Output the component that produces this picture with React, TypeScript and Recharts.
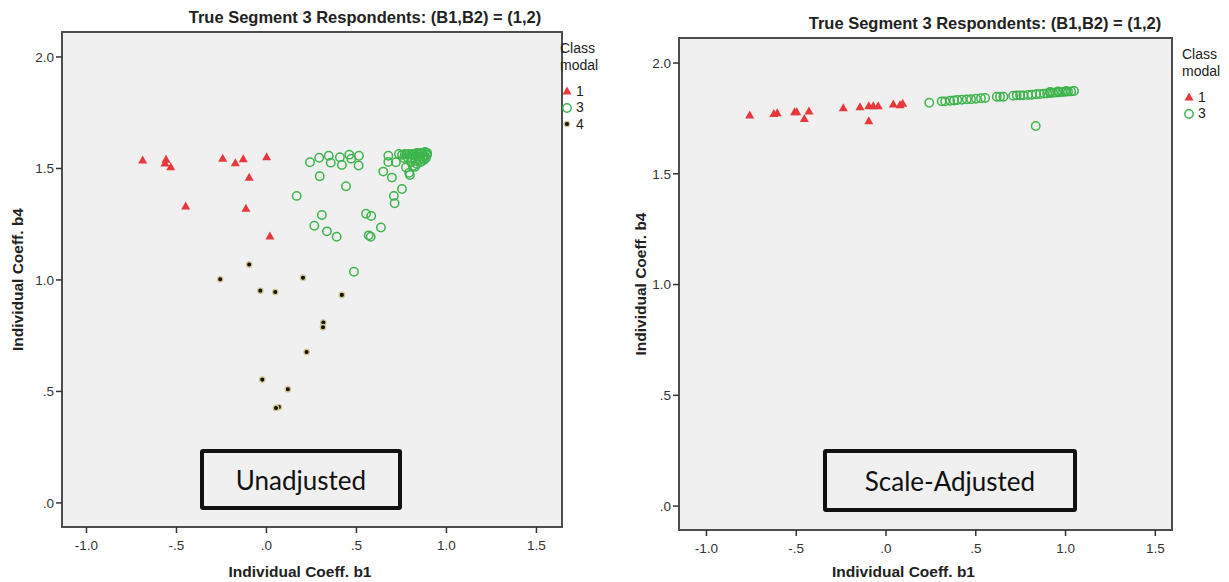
import React from 'react';
import { ScatterChart, Scatter, XAxis, YAxis, CartesianGrid, ReferenceArea } from 'recharts';

// tick values and text
const xTicks = [-1, -0.5, 0, 0.5, 1, 1.5];
const yTicks = [0, 0.5, 1, 1.5, 2];
const chartTitle = 'True Segment 3 Respondents: (B1,B2) = (1,2)';
const xTitle = 'Individual Coeff. b1';
const yTitle = 'Individual Coeff. b4';
const legendTitle = ['Class', 'modal'];

// Unadjusted panel
const unadjClass1 = [
  { x: -0.688, y: 1.538 }, { x: -0.558, y: 1.541 }, { x: -0.564, y: 1.525 },
  { x: -0.532, y: 1.508 }, { x: -0.449, y: 1.332 }, { x: -0.243, y: 1.546 },
  { x: -0.173, y: 1.526 }, { x: -0.129, y: 1.544 }, { x: -0.096, y: 1.461 },
  { x: -0.114, y: 1.322 }, { x: 0.001, y: 1.553 }, { x: 0.019, y: 1.197 },
];

const unadjClass3 = [
  { x: 0.242, y: 1.528 }, { x: 0.293, y: 1.548 }, { x: 0.346, y: 1.557 },
  { x: 0.357, y: 1.526 }, { x: 0.408, y: 1.55 }, { x: 0.419, y: 1.516 },
  { x: 0.46, y: 1.562 }, { x: 0.471, y: 1.544 }, { x: 0.514, y: 1.557 },
  { x: 0.512, y: 1.513 }, { x: 0.296, y: 1.465 }, { x: 0.442, y: 1.42 },
  { x: 0.168, y: 1.377 }, { x: 0.308, y: 1.291 }, { x: 0.266, y: 1.243 },
  { x: 0.336, y: 1.218 }, { x: 0.39, y: 1.194 }, { x: 0.553, y: 1.297 },
  { x: 0.582, y: 1.287 }, { x: 0.636, y: 1.235 }, { x: 0.568, y: 1.2 },
  { x: 0.579, y: 1.194 }, { x: 0.486, y: 1.037 }, { x: 0.677, y: 1.557 },
  { x: 0.677, y: 1.529 }, { x: 0.719, y: 1.528 }, { x: 0.649, y: 1.486 },
  { x: 0.697, y: 1.459 }, { x: 0.753, y: 1.408 }, { x: 0.708, y: 1.377 },
  { x: 0.712, y: 1.344 }, { x: 0.775, y: 1.504 }, { x: 0.797, y: 1.471 },
  { x: 0.793, y: 1.481 }, { x: 0.825, y: 1.508 },
  { x: 0.736, y: 1.565 }, { x: 0.753, y: 1.561 }, { x: 0.769, y: 1.565 },
  { x: 0.781, y: 1.561 }, { x: 0.792, y: 1.565 }, { x: 0.803, y: 1.561 },
  { x: 0.814, y: 1.565 }, { x: 0.825, y: 1.565 }, { x: 0.836, y: 1.57 },
  { x: 0.847, y: 1.565 }, { x: 0.858, y: 1.57 }, { x: 0.869, y: 1.57 },
  { x: 0.881, y: 1.574 }, { x: 0.892, y: 1.57 },
  { x: 0.764, y: 1.547 }, { x: 0.786, y: 1.547 }, { x: 0.808, y: 1.547 },
  { x: 0.831, y: 1.552 }, { x: 0.853, y: 1.552 }, { x: 0.875, y: 1.556 },
  { x: 0.892, y: 1.561 }, { x: 0.803, y: 1.529 }, { x: 0.825, y: 1.534 },
  { x: 0.847, y: 1.538 }, { x: 0.869, y: 1.543 }, { x: 0.886, y: 1.547 },
  { x: 0.814, y: 1.511 }, { x: 0.836, y: 1.52 }, { x: 0.858, y: 1.529 },
  { x: 0.875, y: 1.538 },
];

const unadjClass4 = [
  { x: -0.096, y: 1.069 }, { x: -0.257, y: 1.003 }, { x: 0.203, y: 1.01 },
  { x: -0.034, y: 0.952 }, { x: 0.049, y: 0.946 }, { x: 0.419, y: 0.933 },
  { x: 0.316, y: 0.809 }, { x: 0.314, y: 0.788 }, { x: 0.223, y: 0.677 },
  { x: -0.023, y: 0.553 }, { x: 0.119, y: 0.51 }, { x: 0.069, y: 0.43 },
  { x: 0.053, y: 0.426 },
];

// Scale-adjusted panel
const adjClass1 = [
  { x: -0.759, y: 1.765 }, { x: -0.606, y: 1.776 }, { x: -0.625, y: 1.772 },
  { x: -0.509, y: 1.78 }, { x: -0.497, y: 1.78 }, { x: -0.455, y: 1.75 },
  { x: -0.429, y: 1.783 }, { x: -0.238, y: 1.798 }, { x: -0.145, y: 1.803 },
  { x: -0.096, y: 1.807 }, { x: -0.071, y: 1.807 }, { x: -0.043, y: 1.807 },
  { x: -0.096, y: 1.74 }, { x: 0.041, y: 1.815 }, { x: 0.078, y: 1.812 },
  { x: 0.093, y: 1.818 },
];

const adjClass3 = [
  { x: 0.241, y: 1.821 }, { x: 0.31, y: 1.827 }, { x: 0.329, y: 1.827 },
  { x: 0.357, y: 1.83 }, { x: 0.379, y: 1.831 }, { x: 0.397, y: 1.833 },
  { x: 0.423, y: 1.834 }, { x: 0.45, y: 1.836 }, { x: 0.474, y: 1.837 },
  { x: 0.501, y: 1.839 }, { x: 0.529, y: 1.841 }, { x: 0.552, y: 1.842 },
  { x: 0.617, y: 1.848 }, { x: 0.635, y: 1.848 }, { x: 0.654, y: 1.848 },
  { x: 0.708, y: 1.852 }, { x: 0.728, y: 1.854 }, { x: 0.747, y: 1.854 },
  { x: 0.765, y: 1.854 }, { x: 0.791, y: 1.856 }, { x: 0.812, y: 1.857 },
  { x: 0.836, y: 1.859 }, { x: 0.858, y: 1.86 }, { x: 0.88, y: 1.862 },
  { x: 0.897, y: 1.863 }, { x: 0.914, y: 1.865 }, { x: 0.93, y: 1.866 },
  { x: 0.947, y: 1.867 }, { x: 0.964, y: 1.868 }, { x: 0.981, y: 1.869 },
  { x: 0.997, y: 1.87 }, { x: 1.014, y: 1.871 }, { x: 1.031, y: 1.872 },
  { x: 1.047, y: 1.874 }, { x: 0.958, y: 1.872 }, { x: 1.003, y: 1.874 },
  { x: 0.914, y: 1.869 }, { x: 0.834, y: 1.716 },
];

const RED = '#e8383d';
const GREEN = '#3cb44b';
const TITLE_FONT = '"Liberation Sans", Arial, sans-serif';
const TEXT_FONT = '"Liberation Sans", Arial, sans-serif';

const fmtTick = (v: number) => v.toFixed(1).replace(/^(-?)0\./, '$1.');

const Tri = (p: any) => (
  <path d={`M${p.cx},${p.cy - 4.5}L${p.cx + 4.5},${p.cy + 3.5}L${p.cx - 4.5},${p.cy + 3.5}Z`} fill={RED} />
);
const Ring = (p: any) => (
  <circle cx={p.cx} cy={p.cy} r={4.2} fill="none" stroke={GREEN} strokeWidth={1.5} />
);
const Dot = (p: any) => (
  <circle cx={p.cx} cy={p.cy} r={2.7} fill="#111" stroke="#d2c690" strokeWidth={1.3} />
);

const shapes: Record<string, (p: any) => React.ReactElement> = { '1': Tri, '3': Ring, '4': Dot };

interface PanelProps {
  left: number;
  width: number;
  margin: { top: number; right: number; bottom: number; left: number };
  xAxisHeight: number;
  xDomain: [number, number];
  yDomain: [number, number];
  series: { name: string; data: { x: number; y: number }[] }[];
  yLabelOffset: number;
  xLabelShift: number;
  titleX: number;
  titleY: number;
  legendX: number;
  legendY: number;
  boxText: string;
  box: { x: number; y: number; w: number; h: number };
}

function Panel(props: PanelProps) {
  const { left, width, margin, xAxisHeight, xDomain, yDomain, series } = props;
  return (
    <div style={{ position: 'absolute', left, top: 0, width, height: 582 }}>
      <ScatterChart width={width} height={582} margin={margin}>
        <CartesianGrid horizontal={false} vertical={false} fill="#f0f0f0" />
        <XAxis
          type="number"
          dataKey="x"
          domain={xDomain}
          ticks={xTicks}
          allowDataOverflow
          height={xAxisHeight}
          axisLine={false}
          tickSize={6}
          tickMargin={7}
          tickLine={{ stroke: '#333', strokeWidth: 1.5 }}
          tickFormatter={fmtTick}
          tick={{ fill: '#333', fontSize: 13.5, fontFamily: TEXT_FONT }}
          label={{
            content: (lp: any) => {
              const vb = lp.viewBox;
              return (
                <text
                  x={vb.x + vb.width / 2 + props.xLabelShift}
                  y={vb.y + vb.height - 5}
                  textAnchor="middle"
                  fontFamily={TITLE_FONT}
                  fontWeight="bold"
                  fontSize={15.5}
                  fill="#222"
                >
                  {xTitle}
                </text>
              );
            },
          }}
        />
        <YAxis
          type="number"
          dataKey="y"
          domain={yDomain}
          ticks={yTicks}
          allowDataOverflow
          width={50}
          axisLine={false}
          tickSize={6}
          tickMargin={2}
          tickLine={{ stroke: '#333', strokeWidth: 1.5 }}
          tickFormatter={fmtTick}
          tick={{ fill: '#333', fontSize: 13.5, fontFamily: TEXT_FONT }}
          label={{
            content: (lp: any) => {
              const vb = lp.viewBox;
              const cx = vb.x + props.yLabelOffset;
              const cy = vb.y + vb.height / 2;
              return (
                <text
                  x={cx}
                  y={cy}
                  transform={`rotate(-90, ${cx}, ${cy})`}
                  textAnchor="middle"
                  dominantBaseline="central"
                  fontFamily={TITLE_FONT}
                  fontWeight="bold"
                  fontSize={15.5}
                  fill="#222"
                >
                  {yTitle}
                </text>
              );
            },
          }}
        />
        {series.map((s) => (
          <Scatter key={s.name} name={s.name} data={s.data} shape={shapes[s.name]} isAnimationActive={false} />
        ))}
        <ReferenceArea
          x1={xDomain[0]}
          x2={xDomain[1]}
          y1={yDomain[0]}
          y2={yDomain[1]}
          fill="none"
          fillOpacity={0}
          stroke="#4d4d4d"
          strokeWidth={2}
          ifOverflow="visible"
        />
      </ScatterChart>

      <div
        style={{
          position: 'absolute',
          left: props.titleX - 250,
          width: 500,
          top: props.titleY - 10,
          textAlign: 'center',
          font: `bold 16.5px ${TITLE_FONT}`,
          color: '#222',
          lineHeight: '20px',
        }}
      >
        {chartTitle}
      </div>

      <div
        style={{
          position: 'absolute',
          left: props.legendX,
          top: props.legendY,
          font: `14px ${TEXT_FONT}`,
          color: '#222',
          lineHeight: '17px',
        }}
      >
        {legendTitle.map((t) => (
          <div key={t}>{t}</div>
        ))}
        <div style={{ height: 9 }} />
        {series.map((s) => (
          <div key={s.name} style={{ display: 'flex', alignItems: 'center', height: 16.5 }}>
            <svg width={14} height={14} style={{ marginRight: 2 }}>
              {shapes[s.name]({ cx: 7, cy: 7 })}
            </svg>
            <span>{s.name}</span>
          </div>
        ))}
      </div>

      <div
        style={{
          position: 'absolute',
          left: props.box.x,
          top: props.box.y,
          width: props.box.w,
          height: props.box.h,
          boxSizing: 'border-box',
          border: '4px solid #111',
          borderRadius: 3,
          display: 'flex',
          alignItems: 'center',
          justifyContent: 'center',
          font: '26px Lato, "Open Sans", sans-serif',
          color: '#111',
        }}
      >
        {props.boxText}
      </div>
    </div>
  );
}

export default function App() {
  return (
    <div style={{ position: 'absolute', left: 0, top: 0, width: 1229, height: 582, background: '#fff' }}>
      <Panel
        left={0}
        width={620}
        margin={{ top: 32, right: 58, bottom: 0, left: 12 }}
        xAxisHeight={55}
        xDomain={[-1.136, 1.642]}
        yDomain={[-0.108, 2.112]}
        series={[
          { name: '1', data: unadjClass1 },
          { name: '3', data: unadjClass3 },
          { name: '4', data: unadjClass4 },
        ]}
        yLabelOffset={5}
        xLabelShift={-12}
        titleX={365}
        titleY={17}
        legendX={560}
        legendY={40}
        boxText="Unadjusted"
        box={{ x: 200, y: 449, w: 202, h: 61 }}
      />
      <Panel
        left={620}
        width={609}
        margin={{ top: 38, right: 57, bottom: 0, left: 9 }}
        xAxisHeight={52}
        xDomain={[-1.153, 1.593]}
        yDomain={[-0.108, 2.113]}
        series={[
          { name: '1', data: adjClass1 },
          { name: '3', data: adjClass3 },
        ]}
        yLabelOffset={11}
        xLabelShift={-22}
        titleX={365}
        titleY={23}
        legendX={562}
        legendY={46}
        boxText="Scale-Adjusted"
        box={{ x: 203, y: 449, w: 254, h: 63 }}
      />
    </div>
  );
}
